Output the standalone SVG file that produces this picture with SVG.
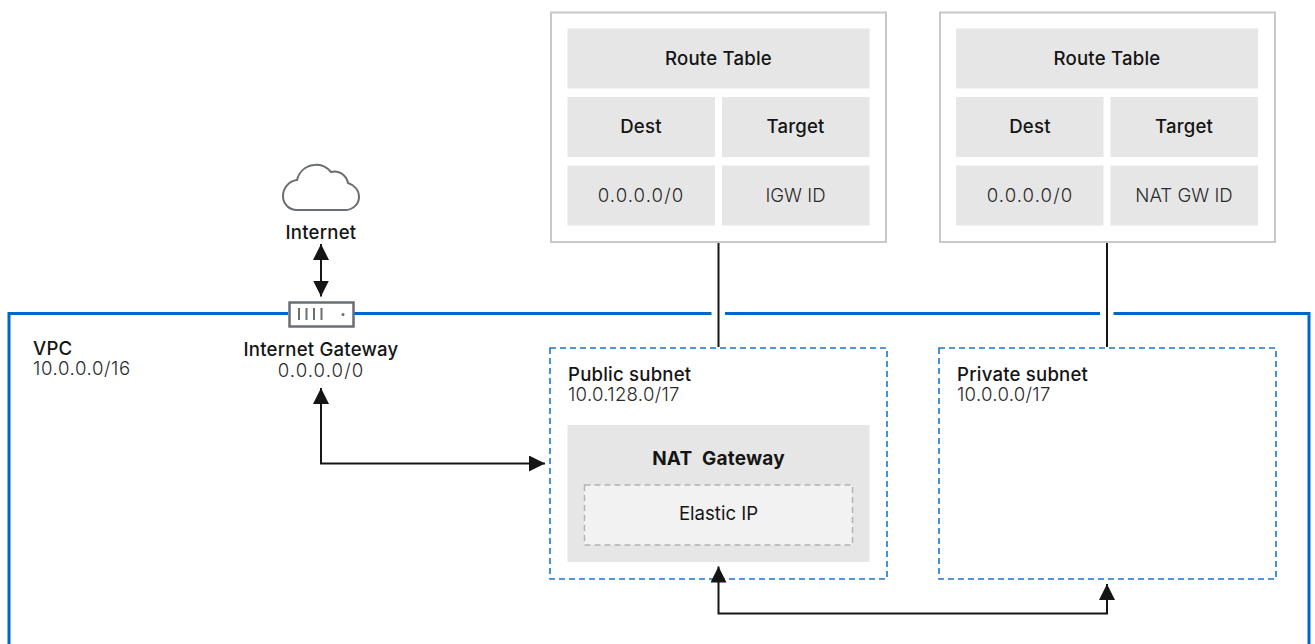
<svg xmlns="http://www.w3.org/2000/svg" width="1315" height="644" viewBox="0 0 1315 644">
<style>
text{font-family:"Inter","Liberation Sans",sans-serif;font-size:18.600px;fill:#151515;font-variant-ligatures:none}
.m{text-anchor:middle}
.b{font-weight:700;font-size:19px;word-spacing:5px;letter-spacing:.2px}
.s{font-weight:500;letter-spacing:.2px}
.l{font-weight:300;fill:#2a2a2a}
.z{font-weight:300;fill:#2a2a2a;letter-spacing:1.100px}
.c{fill:#e6e6e6}
.o{fill:#fff;stroke:#c8c8c8;stroke-width:2}
.d{fill:#fff;stroke:#1a76d2;stroke-width:1.6;stroke-dasharray:6 4}
.k{fill:none;stroke:#151515;stroke-width:2}
</style>
<defs>
<marker id="a" markerUnits="userSpaceOnUse" markerWidth="18" markerHeight="16" refX="16" refY="8" orient="auto-start-reverse"><path d="M0 0L16 8L0 16z" fill="#151515"/></marker>
</defs>
<g id="vpc">
<path d="M288 313.500H9V644M354 313.500H711.500M725 313.500H1100M1113.500 313.500H1309V644" fill="none" stroke="#0066cc" stroke-width="3"/>
<text x="33" y="354.500" class="s">VPC</text>
<text x="33" y="375" class="l" letter-spacing=".6">10.0.0.0/16</text>
</g>
<g id="internet">
<path d="M297 210H345C353 210 359 204 359 197C359 190 354 185 348 183C346 174 338 170 331 172C326 166 320 164 314 165C305 166 299 172 297 180C289 181 283 188 283 196C283 204 289 210 297 210Z" fill="#fff" stroke="#6a6e73" stroke-width="2"/>
<text x="321" y="238.500" class="m s">Internet</text>
</g>
<g id="internet-gateway">
<rect x="289.500" y="302.500" width="64" height="24" fill="#fff" stroke="#6a6e73" stroke-width="2.500"/>
<path d="M299 308V320M306.500 308V320M314 308V320M321.500 308V320" stroke="#6a6e73" stroke-width="2" fill="none"/>
<circle cx="343" cy="314.500" r="1.500" fill="#6a6e73"/>
<text x="321" y="356" class="m s">Internet Gateway</text>
<text x="321" y="376.500" class="m z">0.0.0.0/0</text>
</g>
<g id="route-table-public">
<rect x="551" y="12.500" width="335" height="229.500" class="o"/>
<rect x="567.500" y="28.500" width="302" height="60" class="c"/>
<rect x="567.500" y="97" width="147.500" height="60" class="c"/>
<rect x="722" y="97" width="147.500" height="60" class="c"/>
<rect x="567.500" y="165.500" width="147.500" height="60" class="c"/>
<rect x="722" y="165.500" width="147.500" height="60" class="c"/>
<text x="718.500" y="64.500" class="m s">Route Table</text>
<text x="641" y="133" class="m s">Dest</text>
<text x="795.500" y="133" class="m s">Target</text>
<text x="641" y="201.500" class="m z">0.0.0.0/0</text>
<text x="795.500" y="201.500" class="m l">IGW ID</text>
</g>
<g id="route-table-private">
<rect x="940" y="12.500" width="335" height="229.500" class="o"/>
<rect x="956" y="28.500" width="302" height="60" class="c"/>
<rect x="956" y="97" width="147.500" height="60" class="c"/>
<rect x="1110.500" y="97" width="147.500" height="60" class="c"/>
<rect x="956" y="165.500" width="147.500" height="60" class="c"/>
<rect x="1110.500" y="165.500" width="147.500" height="60" class="c"/>
<text x="1107" y="64.500" class="m s">Route Table</text>
<text x="1030" y="133" class="m s">Dest</text>
<text x="1184" y="133" class="m s">Target</text>
<text x="1030" y="201.500" class="m z">0.0.0.0/0</text>
<text x="1184" y="201.500" class="m l">NAT GW ID</text>
</g>
<g id="public-subnet">
<rect x="550" y="348" width="337" height="231" class="d"/>
<text x="568" y="380.500" class="s">Public subnet</text>
<text x="568" y="401" class="l" letter-spacing=".3">10.0.128.0/17</text>
</g>
<g id="nat-gateway">
<rect x="567.500" y="425" width="302" height="137" class="c"/>
<text x="718.500" y="464.500" class="m b">NAT Gateway</text>
</g>
<g id="elastic-ip">
<rect x="584.500" y="485" width="268" height="60" fill="#f2f2f2" stroke="#b3b3b3" stroke-width="1.500" stroke-dasharray="6 4"/>
<text x="718.500" y="519.500" class="m">Elastic IP</text>
</g>
<g id="private-subnet">
<rect x="939" y="348" width="337" height="231" class="d"/>
<text x="957" y="380.500" class="s">Private subnet</text>
<text x="957" y="401" class="l" letter-spacing=".3">10.0.0.0/17</text>
</g>
<g id="connectors">
<path class="k" d="M718.500 243V347"/>
<path class="k" d="M1107 243V347"/>
<path class="k" d="M321 244V296.500" marker-start="url(#a)" marker-end="url(#a)"/>
<path class="k" d="M321 388V463.500H545" marker-start="url(#a)" marker-end="url(#a)"/>
<path class="k" d="M718.500 566.500V613.500H1107V584" marker-start="url(#a)" marker-end="url(#a)"/>
</g>
</svg>
